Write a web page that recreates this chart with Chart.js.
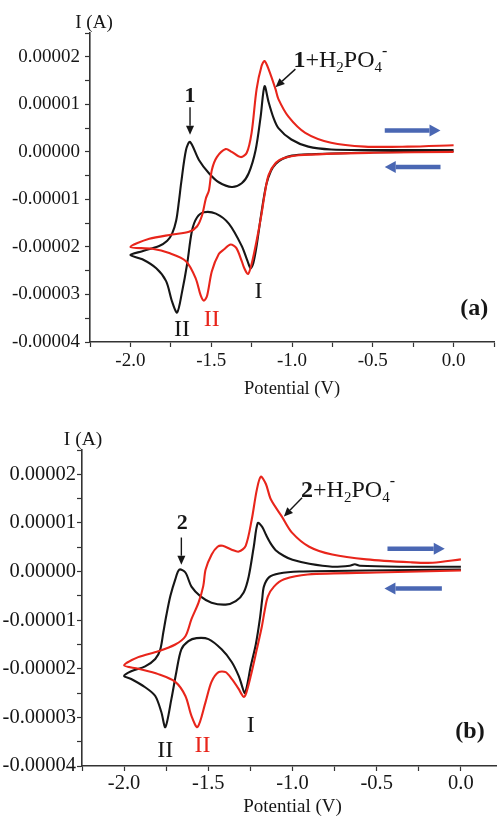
<!DOCTYPE html>
<html>
<head>
<meta charset="utf-8">
<title>Cyclic voltammograms</title>
<script src="https://cdn.jsdelivr.net/npm/chart.js@4.4.1/dist/chart.umd.min.js"></script>
<style>
  html, body { margin: 0; padding: 0; background: #fff; overflow: hidden; }
  #panel-a { position: absolute; left: 0; top: 0; }
  #panel-b { position: absolute; left: 0; top: 400px; }
</style>
</head>
<body>
<canvas id="panel-a" width="497" height="400"></canvas>
<canvas id="panel-b" width="503" height="418"></canvas>
<script>
// Tick labels
const xMajor = [-2.0, -1.5, -1.0, -0.5, 0.0];
const yMajor = [0.00002, 0.00001, 0, -0.00001, -0.00002, -0.00003, -0.00004];

// Panel (a): compound 1, potential (V) and current (1e-5 A), scan starts at 0 V going negative
const aBlackV = [0.0, -0.3, -0.6, -0.9, -1.0, -1.06, -1.10, -1.13, -1.16, -1.19, -1.22, -1.24, -1.256, -1.275, -1.311, -1.391, -1.471, -1.545, -1.588, -1.619, -1.649, -1.680, -1.711, -1.742, -1.779, -1.840, -1.926, -2.0,
  -1.926, -1.822, -1.772, -1.742, -1.717, -1.699, -1.686, -1.656, -1.631, -1.576, -1.514, -1.453, -1.373, -1.311, -1.268, -1.225, -1.194, -1.170, -1.145, -1.115, -1.084, -1.004, -0.899, -0.758, -0.5, -0.25, 0.0];
const aBlackI = [0.02, 0.0, -0.02, -0.05, -0.08, -0.15, -0.25, -0.4, -0.7, -1.3, -2.0, -2.35, -2.45, -2.3, -1.98, -1.51, -1.30, -1.27, -1.38, -1.66, -2.36, -2.94, -3.38, -3.15, -2.72, -2.45, -2.26, -2.17,
  -2.09, -1.98, -1.87, -1.72, -1.45, -1.02, -0.66, 0.04, 0.21, -0.17, -0.45, -0.64, -0.74, -0.66, -0.45, 0.04, 0.74, 1.38, 1.05, 0.72, 0.50, 0.26, 0.11, 0.05, 0.04, 0.04, 0.04];
const aRedV = [0.0, -0.5, -0.96, -1.05, -1.10, -1.145, -1.17, -1.188, -1.219, -1.250, -1.272, -1.295, -1.311, -1.345, -1.38, -1.42, -1.453, -1.496, -1.525, -1.545, -1.565, -1.596, -1.656, -1.760, -1.865, -2.0,
  -1.883, -1.742, -1.637, -1.588, -1.557, -1.533, -1.514, -1.496, -1.465, -1.41, -1.373, -1.317, -1.28, -1.25, -1.219, -1.188, -1.170, -1.145, -1.102, -1.084, -1.022, -0.918, -0.758, -0.549, -0.285, 0.0];
const aRedI = [0.0, -0.02, -0.07, -0.13, -0.23, -0.49, -0.91, -1.30, -1.87, -2.36, -2.57, -2.45, -2.30, -2.02, -1.95, -2.05, -2.15, -2.51, -3.02, -3.13, -3.02, -2.66, -2.30, -2.13, -2.04, -2.0,
  -1.83, -1.74, -1.68, -1.57, -1.34, -0.98, -0.81, -0.38, -0.11, 0.06, 0.0, -0.11, -0.02, 0.40, 1.32, 1.81, 1.91, 1.74, 1.32, 1.11, 0.74, 0.40, 0.19, 0.11, 0.11, 0.14];

// Panel (b): compound 2
const bBlackV = [0.0, -0.567, -0.96, -1.08, -1.14, -1.17, -1.18, -1.194, -1.218, -1.248, -1.270, -1.284, -1.300, -1.319, -1.361, -1.421, -1.499, -1.570, -1.618, -1.660, -1.690, -1.719, -1.755, -1.779, -1.815, -1.875, -1.958, -2.0,
  -1.958, -1.875, -1.815, -1.785, -1.767, -1.749, -1.725, -1.696, -1.672, -1.636, -1.600, -1.546, -1.481, -1.397, -1.337, -1.290, -1.260, -1.230, -1.206, -1.18, -1.158, -1.13, -1.10, -1.05, -1.0, -0.9, -0.764, -0.66, -0.63, -0.60, -0.364, 0.0];
const bBlackI = [0.04, 0.02, 0.0, -0.04, -0.12, -0.31, -0.57, -0.98, -1.50, -1.95, -2.35, -2.50, -2.35, -2.15, -1.86, -1.60, -1.39, -1.37, -1.43, -1.60, -2.07, -2.62, -3.20, -2.89, -2.56, -2.38, -2.21, -2.15,
  -2.05, -1.95, -1.80, -1.60, -1.25, -0.90, -0.50, -0.16, 0.04, -0.02, -0.31, -0.51, -0.64, -0.68, -0.61, -0.43, -0.10, 0.51, 1.00, 0.92, 0.76, 0.58, 0.44, 0.32, 0.24, 0.16, 0.10, 0.12, 0.15, 0.12, 0.10, 0.10];
const bRedV = [0.0, -0.5, -0.91, -1.05, -1.11, -1.146, -1.164, -1.182, -1.212, -1.248, -1.275, -1.290, -1.306, -1.319, -1.361, -1.397, -1.439, -1.481, -1.516, -1.564, -1.600, -1.636, -1.696, -1.797, -1.916, -2.0,
  -1.916, -1.797, -1.696, -1.636, -1.600, -1.558, -1.530, -1.516, -1.48, -1.445, -1.415, -1.361, -1.319, -1.278, -1.242, -1.212, -1.188, -1.158, -1.128, -1.063, -1.003, -0.901, -0.764, -0.561, -0.3, -0.167, 0.0];
const bRedI = [0.02, -0.02, -0.06, -0.16, -0.31, -0.51, -0.78, -1.13, -1.60, -2.15, -2.50, -2.58, -2.50, -2.42, -2.21, -2.07, -2.07, -2.27, -2.68, -3.20, -2.97, -2.56, -2.27, -2.11, -2.0, -1.93,
  -1.76, -1.64, -1.50, -1.33, -0.98, -0.64, -0.30, 0.04, 0.35, 0.51, 0.53, 0.45, 0.41, 0.53, 1.07, 1.68, 1.95, 1.80, 1.48, 1.13, 0.80, 0.51, 0.35, 0.25, 0.19, 0.18, 0.25];

const FONT = 'Liberation Serif';
const BLACK = '#161616';
const RED = '#e8251b';
const BLUE = '#4a67b3';

function toPoints(vs, is) {
  return vs.map((v, i) => ({ x: v, y: is[i] * 1e-5 }));
}

function isMajor(list, v, eps) {
  return list.some(m => Math.abs(m - v) < eps);
}

function drawArrow(ctx, x1, y1, x2, y2, color, width, headLen, headW) {
  const ang = Math.atan2(y2 - y1, x2 - x1);
  const bx = x2 - headLen * Math.cos(ang);
  const by = y2 - headLen * Math.sin(ang);
  ctx.strokeStyle = color;
  ctx.fillStyle = color;
  ctx.lineWidth = width;
  ctx.beginPath();
  ctx.moveTo(x1, y1);
  ctx.lineTo(bx, by);
  ctx.stroke();
  ctx.beginPath();
  ctx.moveTo(x2, y2);
  ctx.lineTo(bx + headW / 2 * Math.sin(ang), by - headW / 2 * Math.cos(ang));
  ctx.lineTo(bx - headW / 2 * Math.sin(ang), by + headW / 2 * Math.cos(ang));
  ctx.closePath();
  ctx.fill();
}

// text labels and arrows placed in data coordinates
const notesPlugin = {
  id: 'cvNotes',
  afterDatasetsDraw(chart, args, opts) {
    const ctx = chart.ctx;
    const xs = chart.scales.x, ys = chart.scales.y;
    ctx.save();
    (opts.arrows || []).forEach(a => {
      drawArrow(ctx, xs.getPixelForValue(a.from[0]), ys.getPixelForValue(a.from[1] * 1e-5),
        xs.getPixelForValue(a.to[0]), ys.getPixelForValue(a.to[1] * 1e-5),
        a.color, a.width, a.head[0], a.head[1]);
    });
    (opts.labels || []).forEach(l => {
      let px = xs.getPixelForValue(l.at[0]);
      const py = ys.getPixelForValue(l.at[1] * 1e-5);
      ctx.fillStyle = l.color || BLACK;
      if (l.parts) {
        ctx.textAlign = 'left';
        ctx.textBaseline = 'alphabetic';
        l.parts.forEach(p => {
          ctx.font = (p.bold ? 'bold ' : '') + p.size + 'px "' + FONT + '"';
          ctx.fillText(p.t, px, py + (p.dy || 0));
          px += ctx.measureText(p.t).width;
        });
      } else {
        ctx.textAlign = 'center';
        ctx.textBaseline = 'middle';
        ctx.font = (l.bold ? 'bold ' : '') + l.size + 'px "' + FONT + '"';
        ctx.fillText(l.text, px, py);
      }
    });
    // y axis title
    ctx.fillStyle = BLACK;
    ctx.font = opts.titleSize + 'px "' + FONT + '"';
    ctx.textAlign = 'center';
    ctx.textBaseline = 'alphabetic';
    ctx.fillText('I (A)', chart.chartArea.left + opts.titleDx, chart.chartArea.top - 5);
    ctx.restore();
  }
};

function makeChart(id, o) {
  const canvas = document.getElementById(id);
  return new Chart(canvas.getContext('2d'), {
    type: 'scatter',
    data: {
      datasets: o.curves.map(c => ({
        data: c.data,
        showLine: true,
        borderColor: c.color,
        borderWidth: 2.1,
        pointRadius: 0,
        tension: 0.3,
        fill: false
      }))
    },
    options: {
      responsive: false,
      animation: false,
      layout: { padding: { top: o.top, left: 0, right: 0, bottom: 0 } },
      plugins: {
        legend: { display: false },
        tooltip: { enabled: false },
        cvNotes: o.notes
      },
      scales: {
        x: {
          type: 'linear',
          min: -2.25,
          max: 0.25,
          afterFit: s => { s.height = o.xHeight; },
          border: { display: true, color: '#333', width: 1.6 },
          grid: { drawOnChartArea: false, drawTicks: true, tickLength: 5, tickColor: '#333', tickWidth: 1.2 },
          ticks: {
            stepSize: 0.25,
            autoSkip: false,
            maxRotation: 0,
            padding: o.xPad,
            color: BLACK,
            font: { family: FONT, size: o.tickSize },
            callback: v => isMajor(xMajor, v, 1e-6) ? v.toFixed(1) : ''
          },
          title: {
            display: true,
            text: 'Potential (V)',
            color: BLACK,
            font: { family: FONT, size: o.titleSize },
            padding: { top: 0, bottom: 0 }
          }
        },
        y: {
          type: 'linear',
          min: -0.00004,
          max: 0.000025,
          afterFit: s => { s.width = o.yWidth; },
          border: { display: true, color: '#333', width: 1.6 },
          grid: { drawOnChartArea: false, drawTicks: true, tickLength: 5, tickColor: '#333', tickWidth: 1.2 },
          ticks: {
            stepSize: 0.000005,
            autoSkip: false,
            padding: o.yPad,
            color: BLACK,
            font: { family: FONT, size: o.tickSize },
            callback: v => isMajor(yMajor, v, 1e-9) ? v.toFixed(5) : ''
          }
        }
      }
    },
    plugins: [notesPlugin]
  });
}

function formulaParts(n) {
  return [
    { t: n, bold: true, size: 24 },
    { t: '+H', size: 24 },
    { t: '2', size: 15, dy: 5 },
    { t: 'PO', size: 24 },
    { t: '4', size: 15, dy: 5 },
    { t: '-', size: 16, dy: -11 }
  ];
}

makeChart('panel-a', {
  top: 33, yWidth: 90, xHeight: 58, xPad: 3, yPad: 5, tickSize: 19, titleSize: 18.5,
  curves: [
    { data: toPoints(aRedV, aRedI), color: RED },
    { data: toPoints(aBlackV, aBlackI), color: BLACK }
  ],
  notes: {
    titleSize: 19, titleDx: 4,
    arrows: [
      { from: [-1.631, 0.94], to: [-1.631, 0.36], color: BLACK, width: 1.4, head: [9, 8] },
      { from: [-0.979, 1.74], to: [-1.102, 1.36], color: BLACK, width: 1.4, head: [9, 8] },
      { from: [-0.426, 0.45], to: [-0.081, 0.45], color: BLUE, width: 4.5, head: [11, 12] },
      { from: [-0.081, -0.32], to: [-0.426, -0.32], color: BLUE, width: 4.5, head: [11, 12] }
    ],
    labels: [
      { text: '1', at: [-1.631, 1.17], size: 22, bold: true },
      { parts: formulaParts('1'), at: [-0.991, 1.79] },
      { text: 'II', at: [-1.68, -3.74], size: 24 },
      { text: 'II', at: [-1.496, -3.53], size: 24, color: RED },
      { text: 'I', at: [-1.207, -2.94], size: 24 },
      { text: '(a)', at: [0.128, -3.30], size: 24, bold: true }
    ]
  }
});

makeChart('panel-b', {
  top: 50, yWidth: 82, xHeight: 52, xPad: 0, yPad: 1, tickSize: 20.5, titleSize: 19,
  curves: [
    { data: toPoints(bRedV, bRedI), color: RED },
    { data: toPoints(bBlackV, bBlackI), color: BLACK }
  ],
  notes: {
    titleSize: 19.5, titleDx: 1,
    arrows: [
      { from: [-1.66, 0.70], to: [-1.66, 0.14], color: BLACK, width: 1.4, head: [9, 8] },
      { from: [-0.943, 1.52], to: [-1.051, 1.13], color: BLACK, width: 1.4, head: [9, 8] },
      { from: [-0.436, 0.47], to: [-0.096, 0.47], color: BLUE, width: 4.5, head: [11, 12] },
      { from: [-0.113, -0.35], to: [-0.454, -0.35], color: BLUE, width: 4.5, head: [11, 12] }
    ],
    labels: [
      { text: '2', at: [-1.654, 1.0], size: 22, bold: true },
      { parts: formulaParts('2'), at: [-0.949, 1.54] },
      { text: 'II', at: [-1.755, -3.69], size: 24 },
      { text: 'II', at: [-1.534, -3.59], size: 24, color: RED },
      { text: 'I', at: [-1.248, -3.18], size: 24 },
      { text: '(b)', at: [0.054, -3.30], size: 24, bold: true }
    ]
  }
});
</script>
</body>
</html>
